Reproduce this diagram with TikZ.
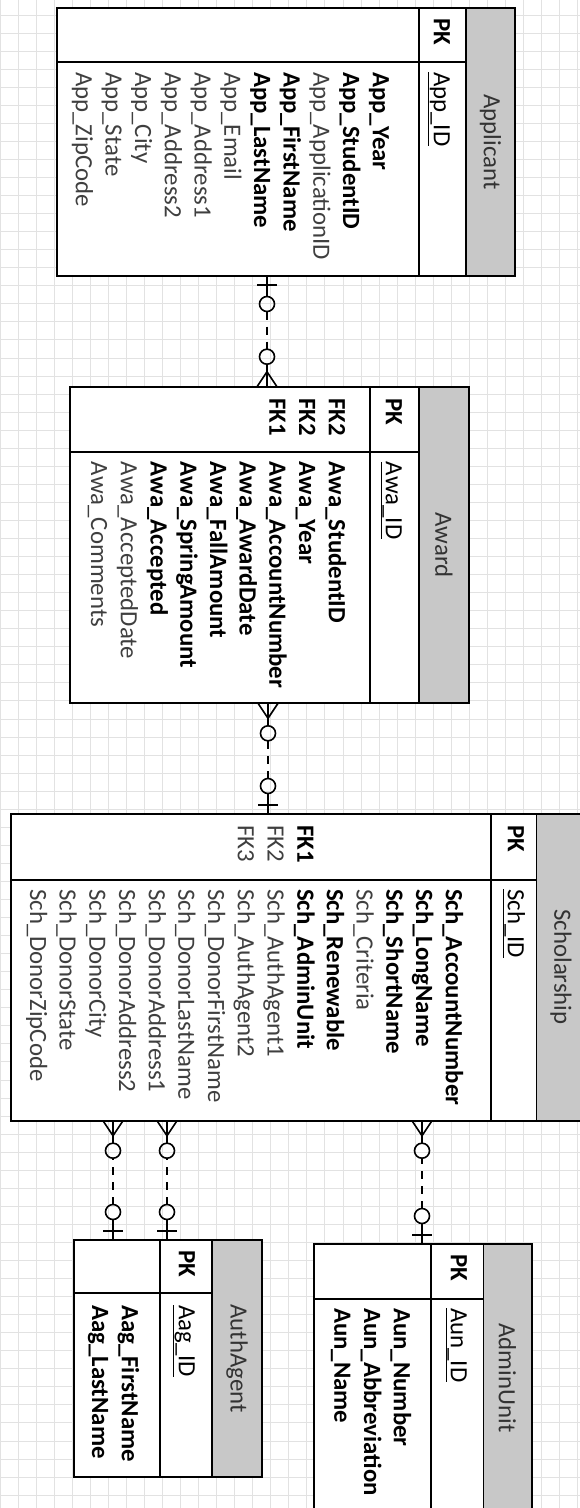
\documentclass[tikz,border=0pt]{standalone}
\usepackage{fontspec}
\setmainfont{Carlito}
\usetikzlibrary{calc}
\definecolor{hdrgray}{HTML}{C8C8C8}
\definecolor{fldgray}{HTML}{3F3F3F}
\definecolor{ttlgray}{HTML}{333333}
\definecolor{gridgray}{HTML}{E2E2E2}
\newcommand{\erfont}{\fontsize{24.8}{29.7}\selectfont}
\newcommand{\req}[1]{\textbf{\textcolor{black}{#1}}}
\newcommand{\rowtop}{\rule{0pt}{19pt}}
% zero-or-one end at #1, zero-or-many end at #2, #3 = +1 when #2 lies below #1
\newcommand{\erlink}[3]{%
  \draw[conn] (#1) -- ($(#1)+(0,{20.5*#3})$);
  \draw[conn] ($(#1)+(-10,{9*#3})$) -- ++(20,0);
  \draw[conn] ($(#1)+(0,{28*#3})$) circle[radius=7.5pt];
  \draw[dsh] ($(#1)+(0,{35.5*#3})$) -- ($(#2)+(0,{-37.5*#3})$);
  \draw[conn] ($(#2)+(0,{-30*#3})$) circle[radius=7.5pt];
  \draw[conn] ($(#2)+(0,{-22.5*#3})$) -- ($(#2)+(0,{-15*#3})$) -- ($(#2)+(-10,0)$)
    ($(#2)+(0,{-15*#3})$) -- (#2) ($(#2)+(0,{-15*#3})$) -- ($(#2)+(10,0)$);
}

\begin{document}
\begin{tikzpicture}[x=1pt,y=-1pt,
  tbl/.style={fill=white,inner sep=0pt,outer sep=0pt,anchor=north west},
  tline/.style={line width=1.8pt},
  hdr/.style={fill=hdrgray},
  gridl/.style={draw=gridgray,line width=0.9pt},
  txt/.style={rotate=-90,inner sep=0pt,font=\erfont,align=left},
  fld/.style={txt,anchor=north west,text=fldgray},
  keyc/.style={txt,anchor=north west,text=black},
  ttl/.style={txt,anchor=center,text=ttlgray},
  conn/.style={line width=1.6pt},
  dsh/.style={conn,dash pattern=on 8pt off 7pt}]
  \useasboundingbox (0,0) rectangle (580,1508);
  \clip (0,0) rectangle (580,1508);
  \fill[white] (0,0) rectangle (580,1508);
  % background grid
  \foreach \gx in {0,18.05,...,580} \draw[gridl] (\gx,0) -- (\gx,1508);
  \foreach \gy in {15,33.05,...,1508} \draw[gridl] (0,\gy) -- (580,\gy);

  % Applicant
  \node[tbl,minimum width=458pt,minimum height=267.7pt] (appl) at (57,8.3) {};
  \fill[hdr] (466,8.3) rectangle (515,276);
  \draw[tline] (appl.north west) rectangle (appl.south east);
  \draw[tline] (419,8.3) -- (419,276) (466,8.3) -- (466,276) (57,61.7) -- (466,61.7);
  \node[ttl] (applttl) at (490.5,142) {Applicant};
  \node[keyc] (applpk) at (453,18) {\rowtop\textbf{PK}};
  \node[keyc] (applid) at (453,72) {\rowtop\underline{App\_ID}};
  \node[fld] (applfld) at (392,72) {\rowtop\req{App\_Year}\\ \req{App\_StudentID}\\ App\_ApplicationID\\
    \req{App\_FirstName}\\ \req{App\_LastName}\\ App\_Email\\ App\_Address1\\ App\_Address2\\
    App\_City\\ App\_State\\ App\_ZipCode};

  % Award
  \node[tbl,minimum width=398.7pt,minimum height=316.6pt] (award) at (70.3,386.7) {};
  \fill[hdr] (419,386.7) rectangle (469,703.3);
  \draw[tline] (award.north west) rectangle (award.south east);
  \draw[tline] (370,386.7) -- (370,703.3) (419,386.7) -- (419,703.3) (70.3,452.3) -- (419,452.3);
  \node[ttl] (awardttl) at (444,545) {Award};
  \node[keyc] (awardpk) at (405,398) {\rowtop\textbf{PK}};
  \node[keyc] (awardid) at (405,461.7) {\rowtop\underline{Awa\_ID}};
  \node[keyc] (awardfk) at (348,398) {\rowtop\textbf{FK2}\\ \textbf{FK2}\\ \textbf{FK1}};
  \node[fld] (awardfld) at (348,461.7) {\rowtop\req{Awa\_StudentID}\\ \req{Awa\_Year}\\ \req{Awa\_AccountNumber}\\
    \req{Awa\_AwardDate}\\ \req{Awa\_FallAmount}\\ \req{Awa\_SpringAmount}\\ \req{Awa\_Accepted}\\
    Awa\_AcceptedDate\\ Awa\_Comments};

  % Scholarship
  \node[tbl,minimum width=575pt,minimum height=306.7pt] (sch) at (11,814) {};
  \fill[hdr] (536.5,814) rectangle (586,1120.7);
  \draw[tline] (sch.north west) rectangle (sch.south east);
  \draw[tline] (491,814) -- (491,1120.7) (536.5,814) -- (536.5,1120.7) (11,880) -- (536.5,880);
  \node[ttl] (schttl) at (561,967) {Scholarship};
  \node[keyc] (schpk) at (527,825) {\rowtop\textbf{PK}};
  \node[keyc] (schid) at (527,889) {\rowtop\underline{Sch\_ID}};
  \node[keyc] (schfk) at (316.5,825) {\rowtop\textbf{FK1}\\ \textcolor{fldgray}{FK2}\\ \textcolor{fldgray}{FK3}};
  \node[fld] (schfld) at (465,889) {\rowtop\req{Sch\_AccountNumber}\\ \req{Sch\_LongName}\\ \req{Sch\_ShortName}\\
    Sch\_Criteria\\ \req{Sch\_Renewable}\\ \req{Sch\_AdminUnit}\\ Sch\_AuthAgent1\\ Sch\_AuthAgent2\\
    Sch\_DonorFirstName\\ Sch\_DonorLastName\\ Sch\_DonorAddress1\\ Sch\_DonorAddress2\\
    Sch\_DonorCity\\ Sch\_DonorState\\ Sch\_DonorZipCode};

  % AuthAgent
  \node[tbl,minimum width=188pt,minimum height=237pt] (auth) at (74,1240) {};
  \fill[hdr] (212,1240) rectangle (262,1477);
  \draw[tline] (auth.north west) rectangle (auth.south east);
  \draw[tline] (160,1240) -- (160,1477) (212,1240) -- (212,1477) (74,1293) -- (212,1293);
  \node[ttl] (authttl) at (237,1358.5) {AuthAgent};
  \node[keyc] (authpk) at (198,1250) {\rowtop\textbf{PK}};
  \node[keyc] (authid) at (198,1305) {\rowtop\underline{Aag\_ID}};
  \node[fld] (authfld) at (141,1305) {\rowtop\req{Aag\_FirstName}\\ \req{Aag\_LastName}};

  % AdminUnit
  \node[tbl,minimum width=217.9pt,minimum height=268pt] (adm) at (313.7,1244) {};
  \fill[hdr] (483.5,1244) rectangle (531.6,1512);
  \draw[tline] (adm.north west) rectangle (adm.south east);
  \draw[tline] (431,1244) -- (431,1512) (483.5,1244) -- (483.5,1512) (313.7,1299.3) -- (483.5,1299.3);
  \node[ttl] (admttl) at (507.5,1378) {AdminUnit};
  \node[keyc] (admpk) at (470,1254) {\rowtop\textbf{PK}};
  \node[keyc] (admid) at (470,1308) {\rowtop\underline{Aun\_ID}};
  \node[fld] (admfld) at (413,1308) {\rowtop\req{Aun\_Number}\\ \req{Aun\_Abbreviation}\\ \req{Aun\_Name}};

  % relationships
  \coordinate (r1) at (267,0);
  \coordinate (r2) at (268,0);
  \coordinate (r3) at (113,0);
  \coordinate (r4) at (167,0);
  \coordinate (r5) at (422,0);
  \coordinate (e1a) at (appl.south -| r1);  \coordinate (e1b) at (award.north -| r1);
  \coordinate (e2a) at (sch.north -| r2);   \coordinate (e2b) at (award.south -| r2);
  \coordinate (e3a) at (auth.north -| r3);  \coordinate (e3b) at (sch.south -| r3);
  \coordinate (e4a) at (auth.north -| r4);  \coordinate (e4b) at (sch.south -| r4);
  \coordinate (e5a) at (adm.north -| r5);   \coordinate (e5b) at (sch.south -| r5);
  \erlink{e1a}{e1b}{1}
  \erlink{e2a}{e2b}{-1}
  \erlink{e3a}{e3b}{-1}
  \erlink{e4a}{e4b}{-1}
  \erlink{e5a}{e5b}{-1}
\end{tikzpicture}
\end{document}
